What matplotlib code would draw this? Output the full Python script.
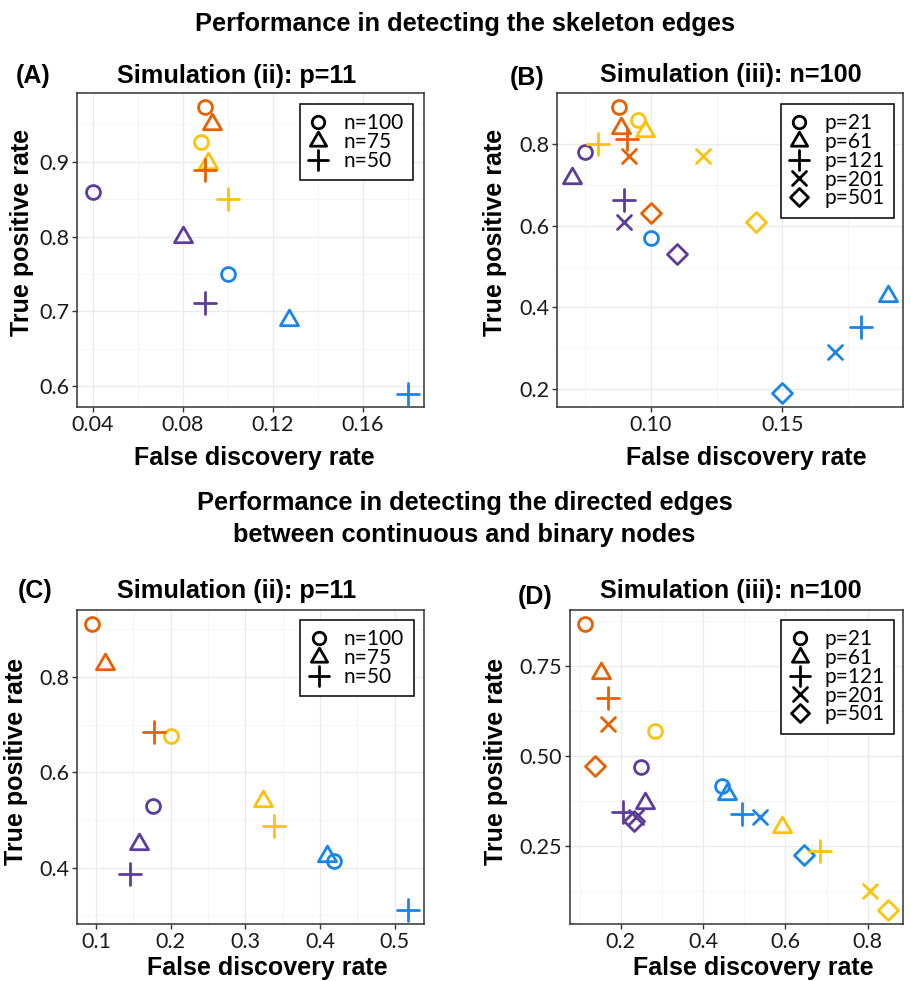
import matplotlib
matplotlib.use("Agg")
import matplotlib.pyplot as plt
from matplotlib.path import Path
from matplotlib.markers import MarkerStyle
from matplotlib.lines import Line2D
from matplotlib.ticker import FixedLocator

# ---------------- data ----------------
methods = ["Method 1", "Method 2", "Method 3", "Method 4"]
method_colors = ["#5E3C99", "#1A85E8", "#FFC20A", "#E66100"]  # purple, blue, yellow, orange

n_labels = ["n=100", "n=75", "n=50"]
p_labels = ["p=21", "p=61", "p=121", "p=201", "p=501"]

# Panel A: skeleton edges, simulation (ii), p=11   (order: n=100, n=75, n=50)
A_fdr = {
    "Method 1": [0.040, 0.080, 0.090],
    "Method 2": [0.100, 0.127, 0.180],
    "Method 3": [0.088, 0.091, 0.100],
    "Method 4": [0.090, 0.093, 0.090],
}
A_tpr = {
    "Method 1": [0.860, 0.799, 0.711],
    "Method 2": [0.750, 0.689, 0.590],
    "Method 3": [0.926, 0.898, 0.850],
    "Method 4": [0.973, 0.950, 0.889],
}

# Panel B: skeleton edges, simulation (iii), n=100 (order: p=21, 61, 121, 201, 501)
B_fdr = {
    "Method 1": [0.075, 0.070, 0.090, 0.090, 0.110],
    "Method 2": [0.100, 0.190, 0.180, 0.170, 0.150],
    "Method 3": [0.095, 0.098, 0.080, 0.120, 0.140],
    "Method 4": [0.088, 0.0886, 0.091, 0.0917, 0.100],
}
B_tpr = {
    "Method 1": [0.780, 0.717, 0.662, 0.609, 0.530],
    "Method 2": [0.569, 0.428, 0.351, 0.290, 0.190],
    "Method 3": [0.860, 0.833, 0.800, 0.770, 0.610],
    "Method 4": [0.891, 0.840, 0.812, 0.770, 0.630],
}

# Panel C: directed edges, simulation (ii), p=11   (order: n=100, n=75, n=50)
C_fdr = {
    "Method 1": [0.176, 0.157, 0.145],
    "Method 2": [0.418, 0.409, 0.518],
    "Method 3": [0.201, 0.323, 0.338],
    "Method 4": [0.095, 0.112, 0.177],
}
C_tpr = {
    "Method 1": [0.530, 0.449, 0.387],
    "Method 2": [0.413, 0.424, 0.311],
    "Method 3": [0.676, 0.540, 0.487],
    "Method 4": [0.910, 0.827, 0.685],
}

# Panel D: directed edges, simulation (iii), n=100 (order: p=21, 61, 121, 201, 501)
D_fdr = {
    "Method 1": [0.249, 0.259, 0.206, 0.237, 0.232],
    "Method 2": [0.446, 0.459, 0.494, 0.539, 0.645],
    "Method 3": [0.284, 0.592, 0.685, 0.805, 0.850],
    "Method 4": [0.113, 0.152, 0.169, 0.168, 0.138],
}
D_tpr = {
    "Method 1": [0.469, 0.370, 0.344, 0.332, 0.320],
    "Method 2": [0.417, 0.396, 0.340, 0.332, 0.225],
    "Method 3": [0.571, 0.302, 0.237, 0.126, 0.072],
    "Method 4": [0.868, 0.732, 0.661, 0.591, 0.473],
}

A_xticks = [0.04, 0.08, 0.12, 0.16]
A_yticks = [0.6, 0.7, 0.8, 0.9]
B_xticks = [0.10, 0.15]
B_yticks = [0.2, 0.4, 0.6, 0.8]
C_xticks = [0.1, 0.2, 0.3, 0.4, 0.5]
C_yticks = [0.4, 0.6, 0.8]
D_xticks = [0.2, 0.4, 0.6, 0.8]
D_yticks = [0.25, 0.50, 0.75]

# ---------------- styling ----------------
W, H = 911, 981
fig = plt.figure(figsize=(W / 100, H / 100), dpi=100)

TITLE_FONT = ["Liberation Sans", "DejaVu Sans"]
TICK_FONT = ["Lato", "DejaVu Sans"]

tri_path = Path([(0, 0.577), (-0.5, -0.2887), (0.5, -0.2887), (0, 0.577)],
                [Path.MOVETO, Path.LINETO, Path.LINETO, Path.CLOSEPOLY])

def mk(m):
    return MarkerStyle(m, fillstyle="none", capstyle="round", joinstyle="round") if isinstance(m, str) \
        else MarkerStyle(m, fillstyle="none", joinstyle="round")

shape_n = [("o", 10), (tri_path, 15), ("+", 15.5)]
shape_p = [("o", 10), (tri_path, 15), ("+", 15.5), ("x", 10.5), ("D", 9.7)]
MEW = 2.0


def px(x, y):
    return x / W, 1 - y / H


def axes_rect(x0, x1, y0, y1):
    return [x0 / W, 1 - y1 / H, (x1 - x0) / W, (y1 - y0) / H]


def panel(rect, fdr, tpr, shapes, labels, xlim, ylim, xticks, yticks,
          xminor, yminor, xfmt, yfmt, leg_anchor):
    ax = fig.add_axes(rect)
    ax.set_xlim(*xlim)
    ax.set_ylim(*ylim)
    ax.xaxis.set_major_locator(FixedLocator(xticks))
    ax.yaxis.set_major_locator(FixedLocator(yticks))
    ax.xaxis.set_minor_locator(FixedLocator(xminor))
    ax.yaxis.set_minor_locator(FixedLocator(yminor))
    ax.set_xticklabels([xfmt.format(v) for v in xticks])
    ax.set_yticklabels([yfmt.format(v) for v in yticks])
    ax.grid(True, which="major", color="#EBEBEB", lw=1.0, zorder=0)
    ax.grid(True, which="minor", color="#F2F2F2", lw=0.6, zorder=0)
    ax.set_axisbelow(True)
    for s in ax.spines.values():
        s.set_color("#333333")
        s.set_linewidth(1.1)
    ax.tick_params(which="major", direction="out", length=3.5, width=1.0,
                   color="#333333", labelsize=15.5, labelcolor="#1A1A1A", pad=2)
    ax.tick_params(which="minor", length=0)
    for lab in ax.get_xticklabels() + ax.get_yticklabels():
        lab.set_family(TICK_FONT)
    for mth, col in zip(methods, method_colors):
        xs, ys = fdr[mth], tpr[mth]
        for i in range(len(xs)):
            m, ms = shapes[i]
            ax.plot(xs[i], ys[i], linestyle="none", marker=mk(m), markersize=ms,
                    markeredgecolor=col, markeredgewidth=MEW, zorder=3, clip_on=False)
    handles = [Line2D([], [], linestyle="none", marker=mk(m), markersize=ms * 0.9,
                      markeredgecolor="black", markeredgewidth=MEW, color="black")
               for (m, ms) in shapes]
    leg = ax.legend(handles, labels, loc="upper right", bbox_to_anchor=leg_anchor,
                    frameon=True, fancybox=False, edgecolor="black", framealpha=1,
                    borderpad=0.45, handlelength=0.9, handletextpad=0.75,
                    labelspacing=-0.06, borderaxespad=0,
                    prop={"family": TICK_FONT, "size": 15})
    leg.get_frame().set_linewidth(1.1)
    return ax


# Panel A
panel(axes_rect(77, 424, 93, 407), A_fdr, A_tpr, shape_n, n_labels,
      (0.033, 0.1872), (0.572, 0.992), A_xticks, A_yticks,
      [0.06, 0.10, 0.14, 0.18], [0.65, 0.75, 0.85, 0.95], "{:.2f}", "{:.1f}",
      (0.968, 0.965))
# Panel B
panel(axes_rect(556.7, 902.7, 93, 407), B_fdr, B_tpr, shape_p, p_labels,
      (0.0643, 0.1957), (0.156, 0.925), B_xticks, B_yticks,
      [0.075, 0.125, 0.175], [0.3, 0.5, 0.7], "{:.2f}", "{:.1f}",
      (0.975, 0.965))
# Panel C
panel(axes_rect(76.7, 424, 610, 924), C_fdr, C_tpr, shape_n, n_labels,
      (0.0742, 0.539), (0.282, 0.94), C_xticks, C_yticks,
      [0.15, 0.25, 0.35, 0.45], [0.3, 0.5, 0.7, 0.9], "{:.1f}", "{:.1f}",
      (0.97, 0.968))
# Panel D
panel(axes_rect(569.7, 902.7, 610, 924), D_fdr, D_tpr, shape_p, p_labels,
      (0.0761, 0.885), (0.033, 0.907), D_xticks, D_yticks,
      [0.1, 0.3, 0.5, 0.7], [0.125, 0.375, 0.625, 0.875], "{:.1f}", "{:.2f}",
      (0.975, 0.968))

# ---------------- texts ----------------
def ftext(x, y, s, size, rot=0):
    fx, fy = px(x, y)
    fig.text(fx, fy, s, ha="center", va="center", fontsize=size, fontweight="bold",
             family=TITLE_FONT, rotation=rot, color="black")

ftext(465, 24, "Performance in detecting the skeleton edges", 18.3)
ftext(464.5, 503, "Performance in detecting the directed edges", 18.3)
ftext(464.5, 535, "between continuous and binary nodes", 18.3)

ftext(237, 76, "Simulation (ii): p=11", 18.2)
ftext(731, 75, "Simulation (iii): n=100", 18.2)
ftext(237, 591, "Simulation (ii): p=11", 18.2)
ftext(731, 591, "Simulation (iii): n=100", 18.2)

ftext(33, 76, "(A)", 18)
ftext(527, 78, "(B)", 18)
ftext(35.5, 591, "(C)", 18)
ftext(535, 597, "(D)", 18)

ftext(254, 458, "False discovery rate", 18)
ftext(746, 458, "False discovery rate", 18)
ftext(267.5, 968, "False discovery rate", 18)
ftext(753, 968, "False discovery rate", 18)

ftext(22, 232, "True positive rate", 18, rot=90)
ftext(495, 232, "True positive rate", 18, rot=90)
ftext(16.5, 761, "True positive rate", 18, rot=90)
ftext(495.7, 761, "True positive rate", 18, rot=90)

fig.savefig("out.png", dpi=100)
